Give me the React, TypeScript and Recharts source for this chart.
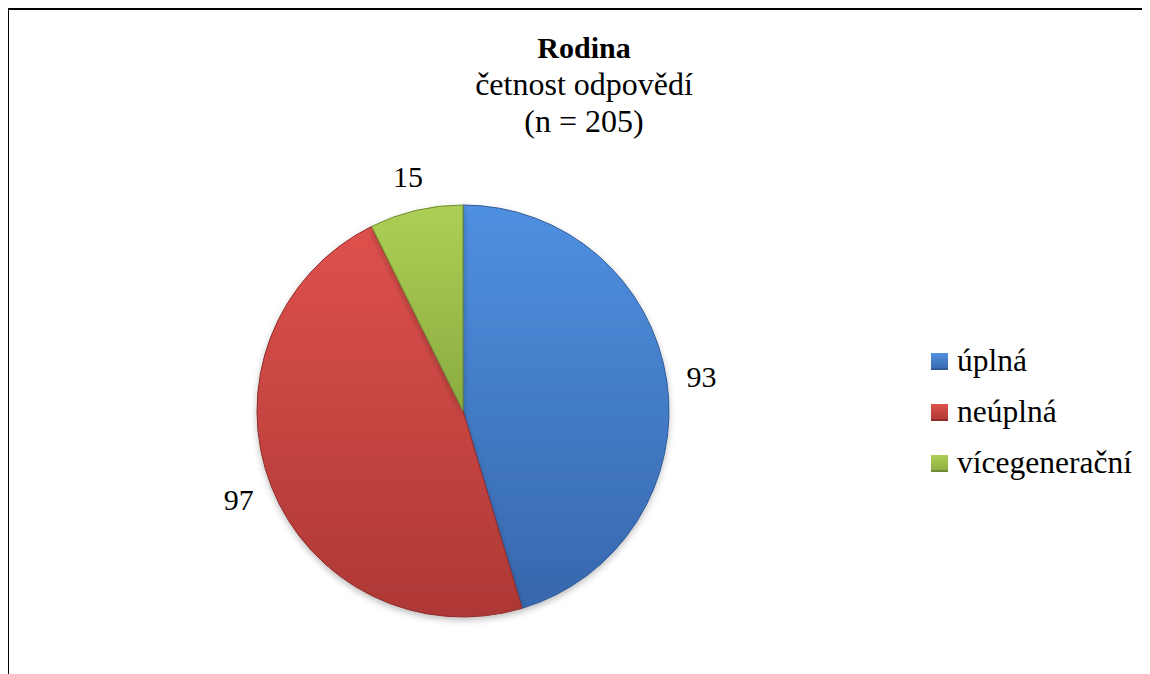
import React from 'react';
import { PieChart, Pie, Cell, Legend } from 'recharts';

const categories = ['úplná', 'neúplná', 'vícegenerační'];
const counts = [93, 97, 15];
const titleLines = ['Rodina', 'četnost odpovědí', '(n = 205)'];

const fills = [
  { top: '#4f90e0', bottom: '#3767ad', edge: '#2f5a96' },
  { top: '#de514d', bottom: '#ad3835', edge: '#8f2d2b' },
  { top: '#adcf55', bottom: '#8aab40', edge: '#6f8c32' },
];

const data = categories.map((name, i) => ({ name, value: counts[i] }));

const RAD = Math.PI / 180;
const font = "'Liberation Serif'";

const renderLabel = (p: any) => {
  const r = p.outerRadius + 35;
  const x = p.cx + r * Math.cos(-p.midAngle * RAD);
  const y = p.cy + r * Math.sin(-p.midAngle * RAD);
  return (
    <text x={x} y={y} textAnchor="middle" dominantBaseline="central" style={{ fontFamily: font }} fontSize={30} fill="#000">
      {p.value}
    </text>
  );
};

const LegendBox = () => (
  <div style={{ fontFamily: font, fontSize: 31.5, color: '#000' }}>
    {data.map((d, i) => (
      <div key={d.name} style={{ display: 'flex', alignItems: 'center', height: 51 }}>
        <span
          style={{
            width: 17,
            height: 17,
            marginRight: 9,
            background: `linear-gradient(${fills[i].top}, ${fills[i].bottom})`,
            boxShadow: `inset 0 -2px 0 ${fills[i].edge}`,
          }}
        />
        <span style={{ position: 'relative', top: -1 }}>{d.name}</span>
      </div>
    ))}
  </div>
);

export default function App() {
  return (
    <div style={{ position: 'relative', width: 1142, height: 666, fontFamily: font }}>
      <style>{`html,body{overflow:hidden}`}</style>
      <div style={{ position: 'absolute', left: -1, top: 0, width: 2, height: 666, background: '#000' }} />
      <div style={{ position: 'absolute', left: -1, top: 0, width: 1143, height: 2, background: '#000' }} />
      <div
        style={{
          position: 'absolute',
          left: 0,
          top: 22,
          width: 1152,
          textAlign: 'center',
          color: '#000',
        }}
      >
        {titleLines.map((t, i) => (
          <div
            key={t}
            style={{
              fontWeight: i === 0 ? 'bold' : 'normal',
              fontSize: i === 0 ? 30 : 32,
              lineHeight: i === 0 ? '36px' : '37px',
            }}
          >
            {t}
          </div>
        ))}
      </div>
      <div style={{ position: 'absolute', left: 0, top: 0 }}>
        <PieChart width={1134} height={658} margin={{ top: 0, right: 0, bottom: 0, left: 0 }}>
          <defs>
            {fills.map((f, i) => (
              <linearGradient key={i} id={`g${i}`} x1="0" y1="0" x2="0" y2="1">
                <stop offset="0%" stopColor={f.top} />
                <stop offset="100%" stopColor={f.bottom} />
              </linearGradient>
            ))}
            <filter id="sh" x="-10%" y="-10%" width="120%" height="130%">
              <feDropShadow dx="0" dy="3" stdDeviation="3" floodColor="#000" floodOpacity="0.25" />
            </filter>
          </defs>
          <Pie
            data={data}
            dataKey="value"
            nameKey="name"
            cx={455}
            cy={403}
            outerRadius={206}
            startAngle={90}
            endAngle={-270}
            label={renderLabel}
            labelLine={false}
            isAnimationActive={false}
          >
            {data.map((d, i) => (
              <Cell key={d.name} fill={`url(#g${i})`} stroke={fills[i].edge} strokeWidth={1} filter="url(#sh)" />
            ))}
          </Pie>
          <Legend
            layout="vertical"
            content={LegendBox}
            wrapperStyle={{ position: 'absolute', left: 923, top: 328, width: 220 }}
          />
        </PieChart>
      </div>
    </div>
  );
}
